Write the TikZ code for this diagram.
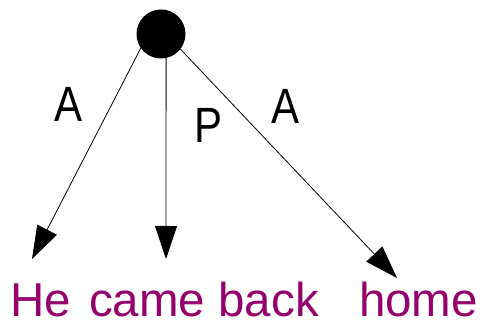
\documentclass[tikz,border=0pt]{standalone}
\usepackage{fontspec}
\setmainfont{Liberation Sans}
\usetikzlibrary{arrows.meta}
\definecolor{wordcol}{RGB}{148,0,108}
\newcommand{\talll}[1]{\scalebox{1}[1.18]{#1}}
\begin{document}
\begin{tikzpicture}[x=1pt,y=1pt,
  edge/.style={draw=black,line width=0.8pt,-{Triangle[length=33pt,width=22pt]}},
  word/.style={text=wordcol,font=\fontsize{47.5}{56}\selectfont,anchor=base,inner sep=0pt},
  lab/.style={text=black,font=\fontsize{42}{50}\selectfont,anchor=base,inner sep=0pt}]
\useasboundingbox (0,0) rectangle (483,324);
\node[circle,fill=black,minimum size=49pt,inner sep=0pt] (root) at (161,290) {};
\coordinate (t1) at (32,65);
\coordinate (t2) at (166,65);
\coordinate (t3) at (397,46);
\draw[edge] (root.215) -- (t1);
\draw[edge] (root.282) -- (t2);
\draw[edge] (root.322) -- (t3);
\node[lab] (l1) at (69,202) {\talll{A}};
\node[lab] (l2) at (209,181) {\talll{P}};
\node[lab] (l3) at (286,200) {\talll{A}};
\node[word] (w1) at (40.5,7) {He};
\node[word] (w2) at (204,7) {came back};
\node[word] (w3) at (418.5,7) {home};
\end{tikzpicture}
\end{document}
